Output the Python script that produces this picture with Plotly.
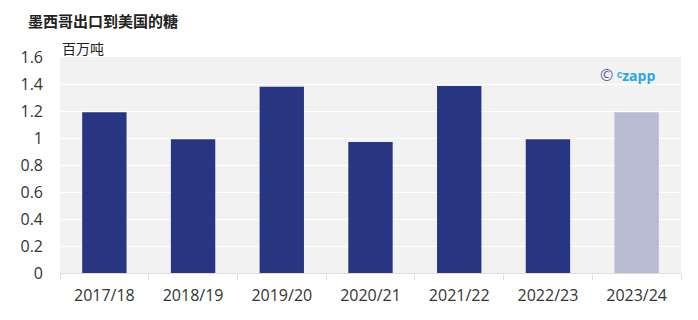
import plotly.graph_objects as go

categories = ["2017/18", "2018/19", "2019/20", "2020/21", "2021/22", "2022/23", "2023/24"]
values = [1.19, 0.99, 1.38, 0.97, 1.385, 0.99, 1.19]
bar_colors = ["#283583"] * 6 + ["#b7bbd3"]

fig = go.Figure(go.Bar(x=categories, y=values, marker=dict(color=bar_colors, line=dict(width=0)),
                       hoverinfo="x+y"))

font_family = "Open Sans, Noto Sans CJK SC, sans-serif"
fig.update_layout(
    width=698, height=320,
    margin=dict(l=60, r=17, t=57, b=47),
    paper_bgcolor="white", plot_bgcolor="#f2f2f2",
    bargap=0.5, showlegend=False,
    font=dict(family=font_family, color="#444", size=14),
    xaxis=dict(showgrid=False, showline=True, linecolor="#dddddd", linewidth=1,
               ticks="outside", tickson="boundaries", ticklen=6, tickcolor="#dddddd",
               ticklabelstandoff=8,
               tickfont=dict(size=16, color="#333")),
    yaxis=dict(range=[0, 1.6], gridcolor="white", gridwidth=1, zeroline=False,
               tickfont=dict(size=16, color="#333"), ticklabelstandoff=16,
               tickvals=[0, 0.2, 0.4, 0.6, 0.8, 1, 1.2, 1.4, 1.6],
               ticktext=["0", "0.2", "0.4", "0.6", "0.8", "1", "1.2", "1.4", "1.6"]),
    annotations=[
        dict(text="<b>墨西哥出口到美国的糖</b>", xref="paper", yref="paper", x=-0.055, y=1.0,
             xanchor="left", yanchor="bottom", yshift=24, showarrow=False,
             font=dict(size=15, color="#222", family="Noto Sans CJK SC")),
        dict(text="百万吨", xref="paper", yref="paper", x=0.0, y=1.0, xanchor="left", yanchor="bottom",
             xshift=0, yshift=-3, showarrow=False,
             font=dict(size=14, color="#222", family="Noto Sans CJK SC")),
        dict(text="<span style='color:#5a5fa8;font-size:16px'>©</span> <span style='color:#2aa6e2'><b>ᶜzapp</b></span>",
             xref="paper", yref="paper", x=0.962, y=0.915, xanchor="right", yanchor="middle",
             showarrow=False, font=dict(size=14)),
    ],
)
fig.write_html("out.html")
